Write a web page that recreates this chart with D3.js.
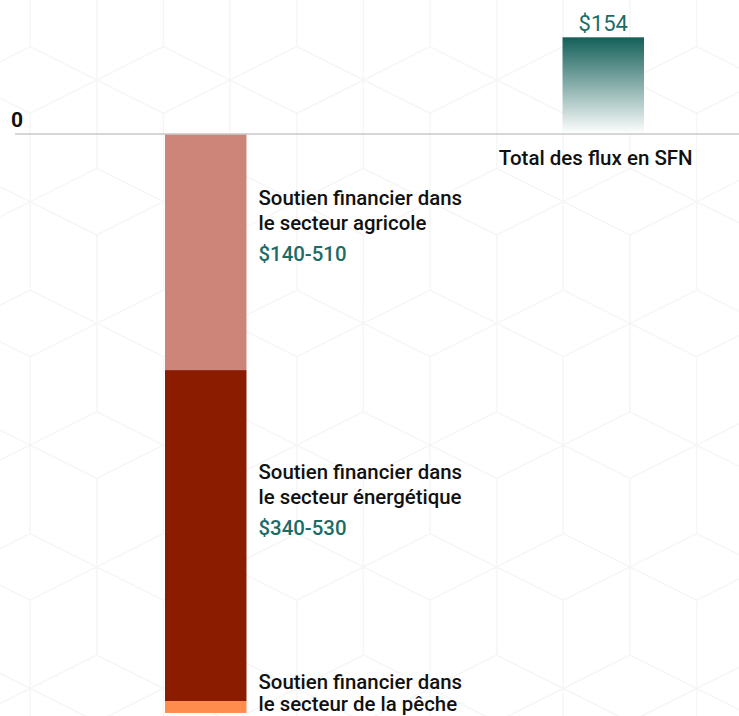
<!DOCTYPE html>
<html>
<head>
<meta charset="utf-8">
<script src="https://cdn.jsdelivr.net/npm/d3@7"></script>
<style>
    body { margin: 0; background: #fff; }
    svg { display: block; font-family: Roboto, "Noto Sans", sans-serif; }
</style>
</head>
<body>
<div id="chart"></div>
<script>
// data, in billions of dollars (bar lengths)
var columns = ["subsidies", "total"];
var subsidyNames = [
    ["Soutien financier dans", "le secteur agricole"],
    ["Soutien financier dans", "le secteur énergétique"],
    ["Soutien financier dans", "le secteur de la pêche"]
];
var subsidyValues = [376, 527, 19];
var subsidyRanges = ["$140-510", "$340-530", ""];
var subsidyColors = ["#cd857a", "#8b1c00", "#ff8c4d"];
var totalLabel = "Total des flux en SFN";
var totalValue = 154;
var zeroTick = [0];

window.onload = function() {
    draw();
};

function draw() {
    var width = 739;
    var height = 716;
    var zeroY = 134;

    var svg = d3.select("#chart").append("svg").attr("width", width).attr("height", height);

    // faint cube pattern in the background
    background(svg, width, height);

    // scales
    var xscale = d3.scaleBand()
        .domain(columns)
        .range([165, 644])
        .paddingInner(0.795)
        .paddingOuter(0);

    var yscale = d3.scaleLinear()
        .domain([0, totalValue])
        .range([zeroY, 37.3]);

    // gradient for the total bar
    var grad = svg.append("defs").append("linearGradient")
        .attr("id", "teal")
        .attr("x1", 0).attr("y1", 0).attr("x2", 0).attr("y2", 1);
    grad.append("stop").attr("offset", "0%").attr("stop-color", "#145f59");
    grad.append("stop").attr("offset", "100%").attr("stop-color", "#ffffff");

    // stacked subsidies, going down from zero
    var stack = [];
    var sum = 0;
    for (let i = 0; i < subsidyValues.length; i++) {
        stack.push({start: sum, end: sum - subsidyValues[i], i: i});
        sum -= subsidyValues[i];
    }

    svg.selectAll(".seg").data(stack).enter().append("rect")
        .attr("class", "seg")
        .attr("x", xscale("subsidies"))
        .attr("y", function(d) { return yscale(d.start); })
        .attr("width", xscale.bandwidth())
        .attr("height", function(d) { return yscale(d.end) - yscale(d.start); })
        .attr("fill", function(d) { return subsidyColors[d.i]; });

    // total bar
    svg.append("rect")
        .attr("x", xscale("total"))
        .attr("y", yscale(totalValue))
        .attr("width", xscale.bandwidth())
        .attr("height", yscale(0) - yscale(totalValue))
        .attr("fill", "url(#teal)");

    // zero line
    svg.append("line")
        .attr("x1", 15).attr("x2", width)
        .attr("y1", yscale(0)).attr("y2", yscale(0))
        .attr("stroke", "#c8c8c8")
        .attr("stroke-width", 1.5);

    svg.selectAll(".zero").data(zeroTick).enter().append("text")
        .attr("class", "zero")
        .attr("x", 11)
        .attr("y", function(d) { return yscale(d) - 7.5; })
        .style("font-size", "21px")
        .style("font-weight", "bold")
        .attr("fill", "#111")
        .text(function(d) { return d; });

    // total labels
    var cx = xscale("total") + xscale.bandwidth() / 2;
    svg.append("text")
        .attr("x", cx)
        .attr("y", yscale(totalValue) - 6)
        .attr("text-anchor", "middle")
        .style("font-size", "22px")
        .attr("fill", "#1b6c66")
        .text("$" + totalValue);
    svg.append("text")
        .attr("x", cx - 7.5)
        .attr("y", yscale(0) + 31)
        .attr("text-anchor", "middle")
        .style("font-size", "20.5px")
        .style("font-weight", 500)
        .attr("fill", "#111")
        .text(totalLabel);

    // subsidy labels, placed beside each segment
    var shift = [-47, -57, -18];
    var gap = [25, 25, 22];
    var lx = xscale("subsidies") + xscale.bandwidth() + 12;
    var labels = svg.selectAll(".lab").data(stack).enter().append("g").attr("class", "lab");
    labels.each(function(d) {
        var g = d3.select(this);
        var y0 = (yscale(d.start) + yscale(d.end)) / 2 + shift[d.i];
        subsidyNames[d.i].forEach(function(line, k) {
            g.append("text")
                .attr("x", lx)
                .attr("y", y0 + k * gap[d.i])
                .style("font-size", "20.4px")
                .style("font-weight", 500)
                .attr("fill", "#111")
                .text(line);
        });
        if (subsidyRanges[d.i] !== "") {
            g.append("text")
                .attr("x", lx)
                .attr("y", y0 + gap[d.i] + 31)
                .style("font-size", "20.4px")
                .style("font-weight", 500)
                .attr("fill", "#1b6c66")
                .text(subsidyRanges[d.i]);
        }
    });
}

function background(svg, width, height) {
    // tumbling blocks outline, very light
    var w = 133.3, dx = 66.65, dy = 33.3, v = 88.4;
    var period = v + dy;
    var path = "";
    for (let r = -3; r < 8; r++) {
        var top = 201.7 + r * period;
        var off = (r % 2 === 0) ? 563.3 : 496.65;
        for (let c = -6; c < 8; c++) {
            var x = off + c * w;
            if (x < -w || x > width + w) continue;
            path += "M" + x + "," + top +
                "L" + (x - dx) + "," + (top + dy) +
                "L" + (x - dx) + "," + (top + dy + v) +
                "L" + x + "," + (top + 2 * dy + v) +
                "L" + (x + dx) + "," + (top + dy + v) +
                "L" + (x + dx) + "," + (top + dy) + "Z" +
                "M" + x + "," + top + "L" + x + "," + (top + v) +
                "M" + (x - dx) + "," + (top + dy + v) + "L" + x + "," + (top + v) +
                "L" + (x + dx) + "," + (top + dy + v);
        }
    }
    svg.append("path")
        .attr("d", path)
        .attr("fill", "none")
        .attr("stroke", "#f6f6f6")
        .attr("stroke-width", 1.5);
}
</script>
</body>
</html>
